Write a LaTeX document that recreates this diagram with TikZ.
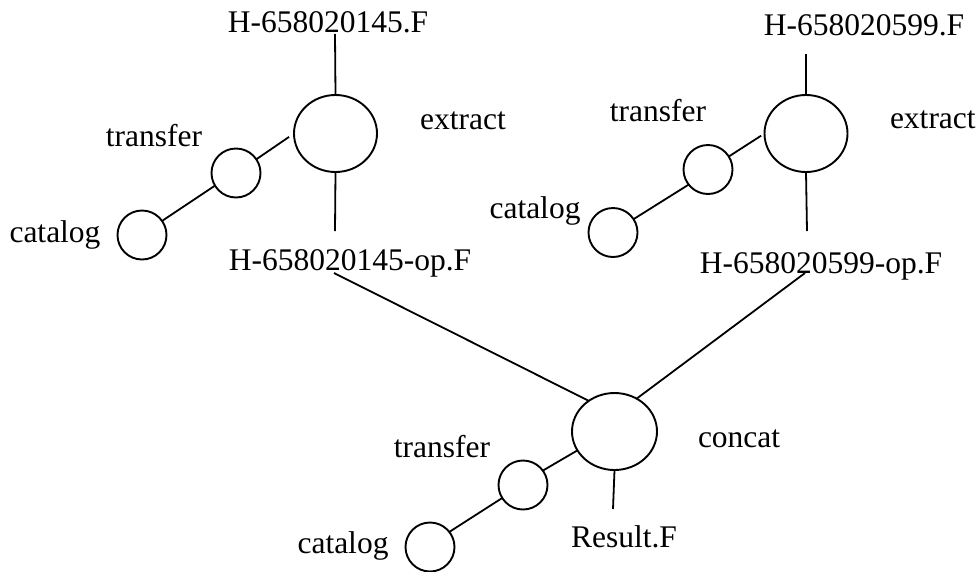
\documentclass[tikz,border=0pt]{standalone}
\usepackage{fontspec}
\setmainfont{Liberation Serif}
\usetikzlibrary{shapes.geometric}
\begin{document}
\begin{tikzpicture}[x=1pt,y=-1pt,
  every node/.style={inner sep=0pt, outer sep=0pt},
  proc/.style={draw, ellipse, line width=1.9pt},
  bigop/.style={proc, minimum width=83pt, minimum height=77pt},
  smallop/.style={proc, minimum width=49pt, minimum height=49pt},
  lbl/.style={anchor=base, font=\fontsize{31.5}{36}\selectfont},
  lblw/.style={lbl, anchor=base west},
  link/.style={line width=1.8pt}]
\useasboundingbox (0,0) rectangle (980,571);
\clip (0,0) rectangle (980,571);

% left extraction
\node[bigop]   (ex1) at (335.5,133.5) {};
\node[smallop] (t1)  at (236,173) {};
\node[smallop] (c1)  at (142,235) {};
\node[lbl] (in1lbl)  at (328,32)  {H-658020145.F};
\node[lbl] (out1lbl) at (350,270) {H-658020145-op.F};
\node[lbl] (ex1lbl)  at (463,129) {extract};
\node[lbl] (t1lbl)   at (154,146) {transfer};
\node[lbl] (c1lbl)   at (55,242)  {catalog};
\coordinate (in1)  at (335,34);
\coordinate (out1) at (335,231);
\coordinate (op1)  at (334,273);

% right extraction
\node[bigop]   (ex2) at (806,133.5) {};
\node[smallop] (t2)  at (708,169.5) {};
\node[smallop] (c2)  at (613,232.5) {};
\node[lbl]  (in2lbl)  at (864,35)  {H-658020599.F};
\node[lbl]  (out2lbl) at (821,273) {H-658020599-op.F};
\node[lblw] (ex2lbl)  at (890,128) {extract};
\node[lbl]  (t2lbl)   at (658,121) {transfer};
\node[lbl]  (c2lbl)   at (535,218) {catalog};
\coordinate (in2)  at (806,54);
\coordinate (out2) at (807,231);
\coordinate (op2)  at (805,273);

% concatenation
\node[bigop, minimum width=85pt] (cc) at (614.5,431.5) {};
\node[smallop] (t3)  at (523,485) {};
\node[smallop] (c3)  at (430,547) {};
\node[lblw] (cclbl)  at (698,447) {concat};
\node[lbl]  (reslbl) at (624,547) {Result.F};
\node[lbl]  (t3lbl)  at (442,457) {transfer};
\node[lbl]  (c3lbl)  at (343,553) {catalog};
\coordinate (res) at (613,509);

% connectors
\draw[link] (in1) -- (ex1.north);
\draw[link] (ex1.south) -- (out1);
\draw[link, shorten >=6pt] (t1.34) -- (ex1.180);
\draw[link] (c1.35) -- (t1.211);

\draw[link] (in2) -- (ex2.north);
\draw[link] (ex2.south) -- (out2);
\draw[link, shorten >=4pt] (t2.32) -- (ex2.180);
\draw[link] (c2.33) -- (t2.218);

\draw[link] (op1) -- (cc.130);
\draw[link] (op2) -- (cc.56);
\draw[link] (cc.south) -- (res);
\draw[link] (t3.36) -- (cc.207);
\draw[link] (c3.38) -- (t3.212);
\end{tikzpicture}
\end{document}
